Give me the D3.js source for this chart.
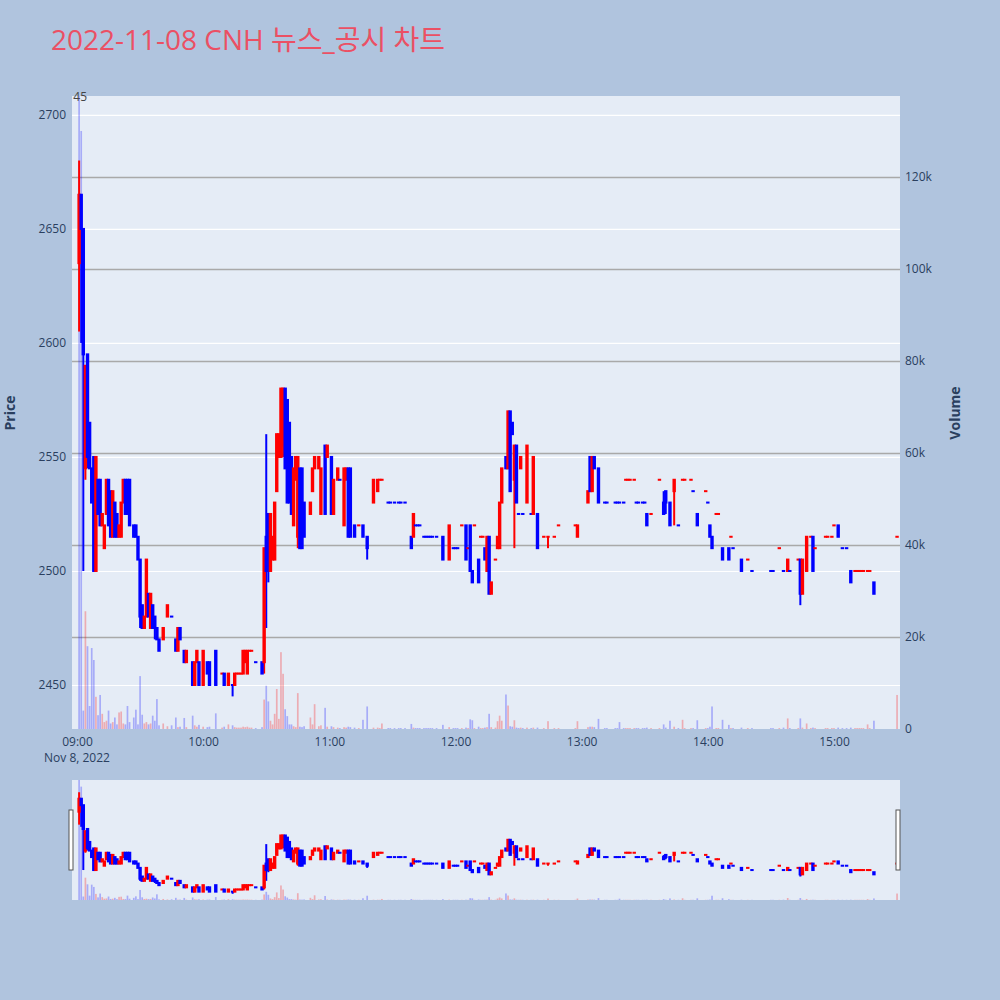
<!DOCTYPE html>
<html><head><meta charset="utf-8">
<script src="https://cdn.jsdelivr.net/npm/d3@7"></script>
<style>
body{margin:0;background:#b0c4de;}
svg{display:block;font-family:"Open Sans","Noto Sans CJK KR",sans-serif;}
</style>
</head><body>
<svg id="chart" width="1000" height="1000"></svg>
<script>
// ---------------- DATA ----------------
const titleText = "2022-11-08 CNH 뉴스_공시 차트";
const newsCountLabel = "45";
const dateLabel = "Nov 8, 2022";
const hourTickLabels = ["09:00","10:00","11:00","12:00","13:00","14:00","15:00"];
const priceTicks = [2450,2500,2550,2600,2650,2700];
const volumeTicks = [0,20000,40000,60000,80000,100000,120000];
const volumeTickLabels = ["0","20k","40k","60k","80k","100k","120k"];

// minutes after 09:00 of each 1-minute candle
const minutesFromOpen = [
1,2,3,4,5,6,7,8,9,10,
11,12,13,14,15,16,17,18,19,20,
21,22,23,24,25,27,28,29,30,31,
32,33,34,35,36,37,38,39,41,43,
45,47,48,49,51,52,55,56,57,58,
60,62,63,66,69,70,72,74,75,76,
77,78,79,80,81,82,83,85,88,89,
90,91,92,93,94,95,96,97,98,99,
100,101,102,103,104,105,106,107,108,111,
112,113,115,116,118,119,121,122,124,125,
127,128,129,130,132,134,136,138,141,143,
144,145,148,149,151,153,154,156,159,160,
161,162,163,165,166,167,168,169,171,174,
177,179,180,181,183,185,186,187,188,189,
191,192,193,194,195,196,197,199,200,201,
202,204,205,206,207,208,209,210,211,212,
214,216,217,219,222,224,227,229,237,238,
243,244,245,246,248,251,252,256,257,258,
260,261,262,263,265,266,267,269,270,271,
273,277,279,280,282,284,286,288,289,292,
293,295,299,300,301,302,304,305,307,310,
311,312,316,319,321,330,331,334,336,338,
339,343,344,345,347,349,350,351,356,357,
359,360,362,364,366,368,370,371,372,373,
374,376,377,379,390];

const openPrices = [
2635,2665,2650,2545,2595,2565,2545,2550,2500,2540,
2540,2520,2510,2525,2540,2535,2515,2530,2525,2515,
2515,2530,2540,2540,2540,2520,2520,2515,2505,2485,
2475,2480,2490,2475,2485,2480,2475,2470,2470,2480,
2480,2470,2465,2475,2465,2460,2460,2450,2460,2460,
2450,2460,2460,2465,2455,2455,2450,2450,2450,2455,
2455,2455,2455,2460,2455,2465,2465,2460,2460,2460,
2515,2525,2500,2505,2505,2535,2550,2550,2555,2580,
2575,2565,2550,2520,2540,2515,2545,2545,2530,2525,
2535,2545,2545,2525,2555,2550,2550,2525,2540,2540,
2520,2540,2545,2545,2520,2520,2520,2515,2530,2535,
2540,2540,2530,2530,2530,2530,2530,2530,2515,2515,
2520,2520,2520,2515,2515,2515,2515,2515,2515,2515,
2505,2510,2510,2510,2520,2520,2510,2520,2500,2520,
2505,2515,2515,2510,2500,2515,2490,2505,2510,2510,
2530,2550,2545,2570,2565,2540,2555,2525,2545,2525,
2530,2525,2525,2525,2515,2515,2515,2520,2520,2515,
2530,2550,2535,2550,2545,2530,2530,2530,2530,2530,
2530,2540,2540,2540,2540,2530,2530,2530,2530,2525,
2525,2540,2530,2535,2530,2535,2520,2540,2540,2540,
2535,2525,2535,2530,2520,2515,2525,2525,2510,2510,
2515,2510,2505,2505,2500,2500,2500,2510,2500,2500,
2500,2505,2505,2490,2500,2515,2515,2510,2515,2515,
2515,2520,2520,2510,2510,2500,2500,2500,2500,2500,
2500,2500,2500,2495,2515];

const highPrices = [
2680,2665,2650,2590,2595,2565,2545,2550,2550,2540,
2540,2525,2520,2540,2540,2535,2535,2530,2525,2520,
2530,2540,2540,2540,2540,2520,2520,2515,2505,2485,
2480,2505,2490,2490,2485,2480,2475,2470,2475,2485,
2480,2470,2475,2475,2465,2465,2460,2460,2465,2460,
2465,2460,2460,2465,2455,2455,2455,2450,2455,2455,
2455,2455,2465,2465,2465,2465,2465,2460,2460,2510,
2560,2525,2525,2515,2530,2560,2560,2580,2580,2580,
2575,2565,2550,2545,2550,2550,2545,2545,2530,2530,
2545,2550,2550,2545,2555,2555,2550,2540,2545,2540,
2545,2545,2545,2545,2520,2520,2520,2515,2540,2540,
2540,2540,2530,2530,2530,2530,2530,2530,2515,2525,
2520,2520,2520,2515,2515,2515,2515,2515,2515,2515,
2520,2510,2510,2510,2520,2520,2510,2520,2500,2520,
2505,2515,2515,2510,2515,2515,2495,2505,2515,2530,
2545,2550,2570,2570,2565,2555,2555,2525,2550,2525,
2555,2525,2550,2525,2515,2515,2515,2520,2520,2520,
2535,2550,2550,2550,2545,2530,2530,2530,2530,2530,
2530,2540,2540,2540,2540,2530,2530,2530,2530,2525,
2525,2540,2535,2535,2530,2540,2520,2540,2540,2540,
2535,2525,2535,2530,2520,2515,2525,2525,2510,2510,
2515,2510,2505,2505,2500,2500,2500,2510,2500,2505,
2500,2505,2505,2505,2515,2515,2515,2510,2515,2515,
2515,2520,2520,2510,2510,2500,2500,2500,2500,2500,
2500,2500,2500,2495,2515];

const lowPrices = [
2605,2600,2500,2540,2545,2545,2530,2500,2500,2525,
2520,2520,2510,2525,2520,2515,2515,2515,2515,2515,
2515,2530,2525,2525,2520,2515,2515,2505,2475,2475,
2475,2480,2480,2475,2475,2470,2470,2465,2470,2480,
2480,2465,2465,2470,2460,2460,2450,2450,2460,2450,
2450,2455,2450,2450,2455,2450,2450,2445,2450,2455,
2455,2455,2455,2460,2455,2465,2465,2460,2455,2455,
2475,2495,2500,2505,2505,2535,2550,2550,2550,2545,
2530,2530,2525,2520,2540,2510,2510,2510,2515,2525,
2535,2545,2545,2525,2525,2550,2525,2525,2540,2540,
2520,2540,2515,2515,2515,2520,2515,2505,2530,2535,
2540,2540,2530,2530,2530,2530,2530,2530,2510,2515,
2520,2520,2520,2515,2515,2515,2515,2515,2515,2505,
2505,2510,2510,2510,2520,2505,2510,2500,2495,2520,
2495,2515,2515,2505,2500,2490,2490,2505,2510,2510,
2530,2545,2545,2535,2560,2510,2530,2525,2545,2525,
2530,2525,2525,2510,2515,2510,2515,2520,2520,2515,
2530,2535,2535,2545,2530,2530,2530,2530,2530,2530,
2530,2540,2540,2540,2540,2530,2530,2530,2530,2520,
2525,2540,2525,2525,2520,2520,2520,2540,2540,2540,
2535,2520,2535,2530,2515,2510,2525,2525,2505,2505,
2515,2510,2500,2505,2500,2500,2500,2510,2500,2500,
2500,2505,2485,2490,2500,2515,2500,2510,2515,2515,
2515,2520,2515,2510,2510,2495,2500,2500,2500,2500,
2500,2500,2500,2490,2515];

const closePrices = [
2665,2650,2595,2590,2550,2545,2530,2500,2550,2525,
2520,2525,2520,2540,2520,2515,2535,2515,2515,2520,
2530,2540,2525,2525,2520,2515,2515,2505,2480,2475,
2480,2505,2480,2490,2475,2475,2470,2465,2475,2485,
2480,2465,2475,2470,2460,2465,2450,2460,2465,2450,
2465,2455,2450,2450,2455,2450,2455,2450,2455,2455,
2455,2455,2465,2465,2465,2465,2465,2460,2455,2510,
2500,2505,2525,2515,2530,2560,2560,2580,2580,2545,
2530,2530,2525,2545,2550,2550,2510,2510,2515,2530,
2545,2550,2550,2545,2525,2555,2525,2540,2545,2540,
2545,2545,2515,2515,2515,2520,2515,2510,2540,2540,
2540,2540,2530,2530,2530,2530,2530,2530,2510,2525,
2520,2520,2520,2515,2515,2515,2515,2515,2515,2505,
2520,2510,2510,2510,2520,2505,2510,2500,2495,2520,
2495,2515,2515,2505,2515,2490,2495,2505,2515,2530,
2545,2545,2570,2535,2560,2555,2530,2525,2550,2525,
2555,2525,2550,2510,2515,2515,2515,2520,2520,2520,
2535,2535,2550,2545,2530,2530,2530,2530,2530,2530,
2530,2540,2540,2540,2540,2530,2530,2530,2530,2520,
2525,2540,2525,2530,2520,2540,2520,2540,2540,2540,
2535,2520,2535,2530,2515,2510,2525,2525,2505,2505,
2515,2510,2500,2505,2500,2500,2500,2510,2500,2505,
2500,2505,2490,2505,2515,2515,2500,2510,2515,2515,
2515,2520,2515,2510,2510,2495,2500,2500,2500,2500,
2500,2500,2500,2490,2515];

// traded volume, thousands of shares
const volumesK = [
140,130,4,25.6,18,5,17.6,15,7,3,
7.4,3.3,1.5,1.8,4,1.2,1.5,2.5,1,3.6,
3.8,1.2,1,5,1.5,2.5,4.2,1,11.5,3.1,
1.2,1.5,1,1.2,2.9,1.8,6.5,0.8,1.2,0.6,
0.8,2.5,0.4,0.5,2.4,0.4,2.9,0.8,0.5,0.9,
0.5,0.4,0.5,3.4,0.3,0.5,1,0.8,0.4,0.3,
0.3,0.3,0.5,0.4,0.5,0.3,0.3,0.2,0.4,6.4,
9.4,6,1.8,1,3.3,8.7,2.2,16.7,12,4.3,
2.8,1,1,0.6,0.4,7.8,0.5,0.4,0.6,2.5,
1,5.4,0.6,0.8,4.6,0.5,0.6,0.4,0.3,0.2,
0.4,0.3,0.5,0.4,0.3,0.2,2,4.9,0.3,0.3,
0.2,1.2,0.2,0.2,0.2,0.2,0.2,0.2,1.1,0.3,
0.2,0.2,0.2,0.2,0.2,0.2,0.2,0.2,0.2,0.9,
0.4,0.2,0.2,0.2,0.2,0.3,0.2,2.1,1.9,0.2,
0.5,0.2,0.2,0.3,0.4,3.3,0.4,0.3,1.7,2.9,
1.8,7.5,5.1,0.6,0.5,1.9,0.3,0.2,0.3,0.2,
0.3,0.2,0.3,0.3,0.2,1.7,0.2,0.2,0.2,1.7,
0.4,0.5,0.5,0.4,2.2,0.2,0.2,0.2,0.2,1.5,
0.2,0.2,0.2,0.2,0.2,0.2,0.2,0.2,0.2,0.3,
0.2,0.2,1,0.3,1.8,0.5,0.2,2,0.2,0.2,
0.2,1.9,0.2,0.2,0.5,4.9,0.2,0.2,2,0.9,
0.2,0.2,0.3,0.2,0.2,0.2,0.2,0.2,0.3,2.3,
0.2,0.2,2.3,0.3,1.2,0.2,0.3,0.2,0.2,0.2,
0.2,0.2,0.3,0.2,0.2,0.3,0.2,0.2,0.2,0.2,
0.2,1,0.2,1.8,7.4];

// ---------------- BUILD ----------------
const t0 = new Date(2022, 10, 8, 9, 0, 0);
const minute = 60000;
let prevDir = -1;
const candles = minutesFromOpen.map((m, i) => {
  const o = openPrices[i], h = highPrices[i], l = lowPrices[i], c = closePrices[i];
  const pc = i > 0 ? closePrices[i-1] : o;
  let dir = c > o ? 1 : c < o ? -1 : (c > pc ? 1 : c < pc ? -1 : prevDir);
  prevDir = dir;
  return {t: new Date(t0.getTime() + m*minute), o, h, l, c, v: volumesK[i]*1000, dir, i};
});

const UP = "#ff0000", DOWN = "#0000ff";
const UPV = "rgba(255,0,0,0.27)", DOWNV = "rgba(0,0,255,0.27)";
const TXT = "#2a3f5f";

const svg = d3.select("#chart");
svg.append("rect").attr("width",1000).attr("height",1000).attr("fill","#b0c4de");

const L = 72, R = 900, T = 96, B = 729;
const xDomain = [new Date(t0.getTime() - 2.38*minute), new Date(t0.getTime() + 391.4*minute)];
const x = d3.scaleTime().domain(xDomain).range([L, R]);
const yP = d3.scaleLinear().domain([2430.7, 2708.3]).range([B, T]);
const yV = d3.scaleLinear().domain([0, 137600]).range([B, T]);

// title
svg.append("text").attr("x", 51).attr("y", 50).attr("font-size", 28)
  .attr("fill", "#eb5064").text(titleText);

// plot background
svg.append("rect").attr("x", L).attr("y", T).attr("width", R-L).attr("height", B-T).attr("fill", "#e5ecf6");

// price grid (white)
const gPG = svg.append("g").attr("transform", `translate(${L},0)`)
  .call(d3.axisLeft(yP).tickValues(priceTicks).tickSize(-(R-L)).tickFormat(""));
gPG.select(".domain").remove();
gPG.selectAll("line").attr("stroke", "#ffffff").attr("stroke-width", 1.2);

// volume grid (gray)
const gVG = svg.append("g").attr("transform", `translate(${L},0)`)
  .call(d3.axisLeft(yV).tickValues(volumeTicks.filter(d => d > 0)).tickSize(-(R-L)).tickFormat(""));
gVG.select(".domain").remove();
gVG.selectAll("line").attr("stroke", "#a9a9a9").attr("stroke-width", 1.5);

// clip
svg.append("clipPath").attr("id", "clipMain").append("rect")
  .attr("x", L).attr("y", T).attr("width", R-L).attr("height", B-T);
svg.append("clipPath").attr("id", "clipSlider").append("rect")
  .attr("x", L).attr("y", 780).attr("width", R-L).attr("height", 120);

function drawSeries(g, xs, yp, yv) {
  const bw = 1.7;
  g.append("g").selectAll("rect").data(candles).join("rect")
    .attr("x", d => xs(d.t) - bw/2).attr("width", bw)
    .attr("y", d => yv(d.v)).attr("height", d => yv(0) - yv(d.v))
    .attr("fill", d => (d.i < 2 ? -1 : d.dir) > 0 ? UPV : DOWNV);
  const cg = g.append("g");
  cg.selectAll("line").data(candles).join("line")
    .attr("x1", d => xs(d.t)).attr("x2", d => xs(d.t))
    .attr("y1", d => yp(d.h)).attr("y2", d => yp(d.l))
    .attr("stroke", d => d.dir > 0 ? UP : DOWN).attr("stroke-width", 2);
  const hw = 0.7;
  cg.selectAll("rect").data(candles).join("rect")
    .attr("x", d => xs(d.t) - hw).attr("width", hw*2)
    .attr("y", d => yp(Math.max(d.o, d.c)))
    .attr("height", d => Math.max(0.01, Math.abs(yp(d.o) - yp(d.c))))
    .attr("fill", d => d.dir > 0 ? UP : DOWN)
    .attr("stroke", d => d.dir > 0 ? UP : DOWN).attr("stroke-width", 2);
}

drawSeries(svg.append("g").attr("clip-path", "url(#clipMain)"), x, yP, yV);

// axes labels
const axP = svg.append("g").attr("transform", `translate(${L},0)`)
  .call(d3.axisLeft(yP).tickValues(priceTicks).tickSize(0).tickPadding(6).tickFormat(d3.format("d")));
const axV = svg.append("g").attr("transform", `translate(${R},0)`)
  .call(d3.axisRight(yV).tickValues(volumeTicks).tickSize(0).tickPadding(5)
    .tickFormat((d, i) => volumeTickLabels[i]));
const hourDates = hourTickLabels.map(s => {
  const [hh, mm] = s.split(":").map(Number);
  return new Date(2022, 10, 8, hh, mm);
});
const axX = svg.append("g").attr("transform", `translate(0,${B})`)
  .call(d3.axisBottom(x).tickValues(hourDates).tickSize(0).tickPadding(8)
    .tickFormat((d, i) => hourTickLabels[i]));
[axP, axV, axX].forEach(a => {
  a.select(".domain").remove();
  a.selectAll("text").attr("font-size", 12).attr("fill", TXT)
    .attr("font-family", '"Open Sans", sans-serif');
});
svg.append("text").attr("x", x(hourDates[0])).attr("y", 762).attr("text-anchor", "middle")
  .attr("font-size", 12).attr("fill", TXT).text(dateLabel);

// axis titles
svg.append("text").attr("transform", "translate(9,413) rotate(-90)")
  .attr("text-anchor", "middle").attr("dominant-baseline", "central")
  .attr("font-size", 14).attr("font-weight", "bold").attr("fill", TXT).text("Price");
svg.append("text").attr("transform", "translate(954,413) rotate(-90)")
  .attr("text-anchor", "middle").attr("dominant-baseline", "central")
  .attr("font-size", 14).attr("font-weight", "bold").attr("fill", TXT).text("Volume");

// news count marker
svg.append("text").attr("x", x(new Date(t0.getTime() + 1.5*minute))).attr("y", 101)
  .attr("text-anchor", "middle").attr("font-size", 12).attr("fill", "#444")
  .text(newsCountLabel);

// ---------------- RANGE SLIDER ----------------
const ST = 780, SB = 900;
svg.append("rect").attr("x", L).attr("y", ST).attr("width", R-L).attr("height", SB-ST).attr("fill", "#e5ecf6");
const yPs = yP.copy().range([SB, ST]);
const yVs = yV.copy().range([SB, ST]);
drawSeries(svg.append("g").attr("clip-path", "url(#clipSlider)"), x, yPs, yVs);
[L-3, R-4].forEach(hx => {
  svg.append("rect").attr("x", hx).attr("y", 810).attr("width", 4).attr("height", 60)
    .attr("fill", "#ffffff").attr("stroke", "#555").attr("stroke-width", 1);
});
</script>
</body></html>
